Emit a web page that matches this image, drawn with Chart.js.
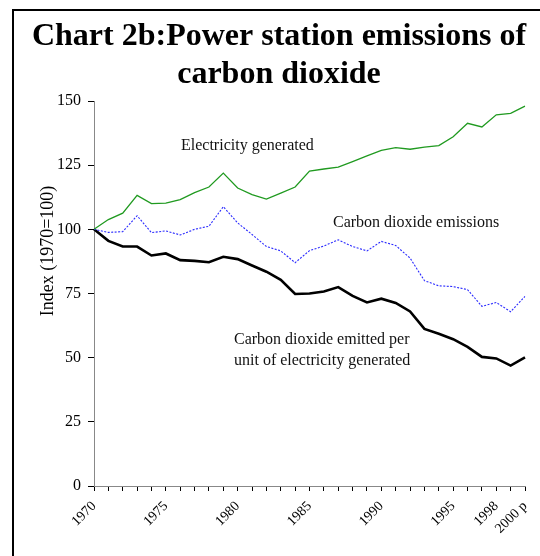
<!DOCTYPE html>
<html>
<head>
<meta charset="utf-8">
<script src="https://cdn.jsdelivr.net/npm/chart.js@4/dist/chart.umd.min.js"></script>
<style>
html,body{margin:0;padding:0;background:#fff;}
canvas{display:block;}
</style>
</head>
<body>
<canvas id="c" width="540" height="556"></canvas>
<script>
const years = ['1970','1971','1972','1973','1974','1975','1976','1977','1978','1979','1980','1981','1982','1983','1984','1985','1986','1987','1988','1989','1990','1991','1992','1993','1994','1995','1996','1997','1998','1999','2000'];
const xTickLabels = ['1970','1975','1980','1985','1990','1995','1998','2000 p'];
const yTickValues = [0,25,50,75,100,125,150];
const electricityGenerated = [100,103.8,106.3,113.2,110,110.2,111.6,114.3,116.5,121.9,116.1,113.5,111.8,114.1,116.5,122.7,123.5,124.2,126.4,128.6,130.8,131.8,131.2,132,132.6,136.1,141.3,139.9,144.6,145.2,148];
const co2Emissions = [100,98.8,99.1,105.3,98.7,99.4,97.8,100,101.2,108.8,102.5,98,93.3,91.6,87,91.7,93.5,95.9,93.3,91.6,95.3,93.7,88.8,80,78,77.7,76.5,70,71.5,67.9,73.9];
const co2PerUnit = [100,95.5,93.3,93.3,89.8,90.6,88,87.7,87.2,89.3,88.4,85.9,83.5,80.3,74.8,75,75.8,77.5,74.1,71.5,73,71.3,68,61.2,59.3,57.2,54.2,50.3,49.7,46.9,50.1];
const titleLines = ['Chart 2b:Power station emissions of','carbon dioxide'];
const yAxisTitle = 'Index (1970=100)';
const seriesNotes = [
  {text:'Electricity generated', x:181, y:146},
  {text:'Carbon dioxide emissions', x:333, y:223},
  {text:'Carbon dioxide emitted per', x:234, y:340},
  {text:'unit of electricity generated', x:234, y:361}
];

const SERIF = '"Liberation Serif","Times New Roman",serif';

const decor = {
  id:'decor',
  afterDraw(chart){
    const ctx = chart.ctx;
    ctx.save();
    ctx.strokeStyle = '#000';
    ctx.lineWidth = 2;
    ctx.beginPath();
    ctx.moveTo(13, 560);
    ctx.lineTo(13, 10);
    ctx.lineTo(545, 10);
    ctx.stroke();
    ctx.fillStyle = '#000';
    ctx.textAlign = 'center';
    ctx.textBaseline = 'alphabetic';
    ctx.font = 'bold 32px ' + SERIF;
    ctx.fillText(titleLines[0], 279, 45);
    ctx.fillText(titleLines[1], 279, 83);
    ctx.save();
    ctx.translate(48, 251);
    ctx.rotate(-Math.PI/2);
    ctx.font = '18px ' + SERIF;
    ctx.textBaseline = 'middle';
    ctx.fillText(yAxisTitle, 0, 0);
    ctx.restore();
    ctx.font = '16px ' + SERIF;
    ctx.textAlign = 'left';
    ctx.textBaseline = 'middle';
    ctx.fillStyle = '#111';
    seriesNotes.forEach(n => ctx.fillText(n.text, n.x, n.y));
    ctx.restore();
  }
};

new Chart(document.getElementById('c'), {
  type:'line',
  data:{
    labels: years,
    datasets:[
      {label:'Electricity generated', data: electricityGenerated, borderColor:'#209a20', borderWidth:1.3, pointRadius:0, tension:0, fill:false},
      {label:'Carbon dioxide emissions', data: co2Emissions, borderColor:'#2a2aff', borderWidth:1.1, borderDash:[2,1.5], pointRadius:0, tension:0, fill:false},
      {label:'Carbon dioxide emitted per unit of electricity generated', data: co2PerUnit, borderColor:'#000', borderWidth:2.6, pointRadius:0, tension:0, fill:false}
    ]
  },
  options:{
    responsive:false,
    animation:false,
    devicePixelRatio:1,
    layout:{padding:{top:101, right:15, left:0, bottom:0}},
    plugins:{legend:{display:false}, tooltip:{enabled:false}, title:{display:false}},
    scales:{
      x:{
        type:'category',
        offset:false,
        grid:{drawOnChartArea:false, drawTicks:true, tickLength:5, color:'#000'},
        border:{display:true, color:'#888', dash:[2,1], width:1},
        ticks:{
          autoSkip:false, minRotation:45, maxRotation:45, padding:7,
          color:'#000', font:{family:SERIF, size:14},
          callback:function(v, i){
            const y = years[i];
            const f = xTickLabels.find(t => t.startsWith(y));
            return f || '';
          }
        },
        afterFit(scale){ scale.height = 70; scale.paddingRight = 0; scale.paddingLeft = 0; }
      },
      y:{
        min:0, max:150,
        afterBuildTicks(scale){ scale.ticks = yTickValues.map(v => ({value:v})); },
        grid:{drawOnChartArea:false, drawTicks:true, tickLength:6, color:'#000'},
        border:{display:true, color:'#888', dash:[2,1], width:1},
        ticks:{padding:7, color:'#000', font:{family:SERIF, size:16}},
        afterFit(scale){ scale.width = 94; scale.paddingTop = 0; scale.paddingBottom = 0; }
      }
    }
  },
  plugins:[decor]
});
</script>
</body>
</html>
